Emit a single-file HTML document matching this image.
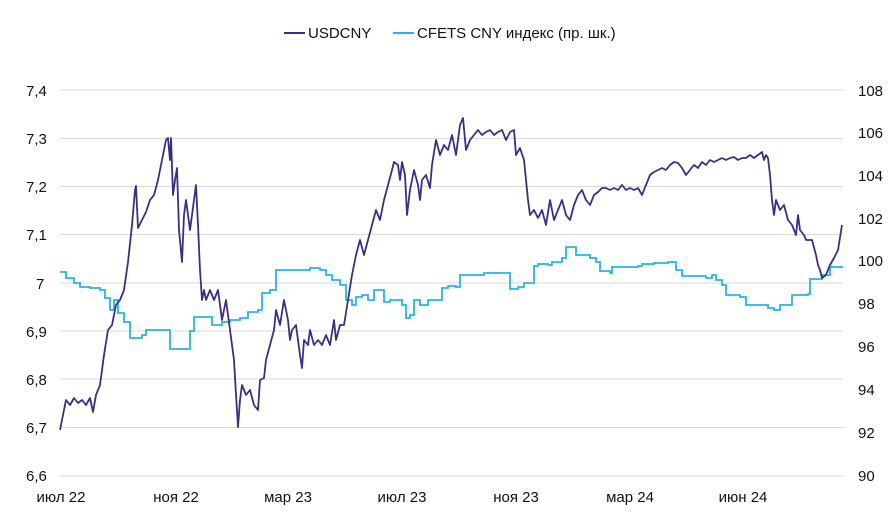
<!DOCTYPE html>
<html><head><meta charset="utf-8"><style>
body{margin:0;background:#fff;}
svg text{font-family:"Liberation Sans",sans-serif;font-size:15px;fill:#111;}
</style></head><body>
<svg width="891" height="526" viewBox="0 0 891 526">
<g stroke="#d9d9d9" stroke-width="1">
<line x1="60" y1="90" x2="843" y2="90"/><line x1="60" y1="138.5" x2="843" y2="138.5"/>
<line x1="60" y1="186.5" x2="843" y2="186.5"/><line x1="60" y1="234.5" x2="843" y2="234.5"/>
<line x1="60" y1="283" x2="843" y2="283"/><line x1="60" y1="331" x2="843" y2="331"/>
<line x1="60" y1="379" x2="843" y2="379"/><line x1="60" y1="427.5" x2="843" y2="427.5"/>
<line x1="60" y1="476" x2="843" y2="476"/>
</g>
<g text-anchor="start">
<text x="26" y="96">7,4</text><text x="26" y="144">7,3</text><text x="26" y="192">7,2</text>
<text x="26" y="240">7,1</text><text x="36" y="289">7</text><text x="26" y="337">6,9</text>
<text x="26" y="385">6,8</text><text x="26" y="433">6,7</text><text x="26" y="481">6,6</text>
<text x="858" y="96">108</text><text x="858" y="138">106</text><text x="858" y="181">104</text>
<text x="858" y="224">102</text><text x="858" y="266">100</text><text x="858" y="309">98</text>
<text x="858" y="352">96</text><text x="858" y="395">94</text><text x="858" y="438">92</text>
<text x="858" y="481">90</text>
</g>
<g text-anchor="middle">
<text x="61" y="502">июл 22</text><text x="176" y="502">ноя 22</text><text x="288" y="502">мар 23</text>
<text x="402" y="502">июл 23</text><text x="516" y="502">ноя 23</text><text x="630" y="502">мар 24</text>
<text x="743" y="502">июн 24</text>
</g>
<line x1="284" y1="33" x2="305" y2="33" stroke="#3a2f85" stroke-width="2"/>
<text x="308" y="38">USDCNY</text>
<line x1="393" y1="33" x2="414" y2="33" stroke="#28b4e3" stroke-width="2"/>
<text x="417" y="38">CFETS CNY индекс (пр. шк.)</text>
<path fill="none" stroke="#28b4e3" stroke-width="1.8" d="M60 272H66V278H74V283H80V287H90V288H100V290H105V298H110V310H114V300H118V313H124V322H130V338H142V335H146V330H168V330H170V349H188V349H190V331H194V317H210V317H212V325H222V322H230V320H240V318H248V312H258V310H262V293H270V290H276V270H310V268H320V270H326V275H332V280H340V285H346V300H352V305H356V297H362V295H368V300H374V290H380V290H384V302H390V300H402V305H406V318H410V315H414V300H420V305H428V300H436V300H442V288H448V286H456V287H460V275H472V275H484V273H508V273H510V289H518V287H524V283H534V266H538V264H548V265H552V262H562V258H566V247H572V247H576V255H590V258H596V262H600V271H610V273H612V267H638V266H642V264H654V263H668V262H676V270H682V276H698V276H706V278H712V275H716V280H722V285H726V295H740V297H746V305H768V308H774V310H780V305H792V295H808V294H810V279H822V275H830V267H843"/>
<polyline fill="none" stroke="#3a2f85" stroke-width="1.8" stroke-linejoin="round" points="60,430 63,415 66,400 70,405 74,398 78,403 82,400 86,405 90,398 93,412 96,395 100,385 104,355 108,330 112,325 116,305 120,300 124,290 128,262 132,225 135,190 136,186 138,228 142,220 146,212 150,200 154,195 158,180 162,160 166,140 168,138 170,160 171,138 173,195 175,180 177,168 179,230 182,262 184,215 186,200 188,215 190,230 194,200 196,185 198,225 200,270 202,300 204,290 206,300 210,290 214,300 218,290 222,320 226,300 230,330 234,360 236,395 238,427 240,400 242,385 246,395 250,390 254,405 258,410 260,380 264,378 266,360 270,345 274,330 276,310 280,325 284,300 288,320 290,340 292,330 296,325 300,355 302,368 304,340 308,345 310,330 314,345 318,340 322,345 326,335 330,345 334,320 336,340 340,325 344,325 348,300 352,275 356,255 360,240 364,255 368,240 372,225 376,210 380,220 384,200 388,185 392,170 394,162 398,165 400,180 402,162 405,175 407,215 410,190 414,170 418,185 420,200 422,180 426,175 430,188 432,165 436,140 440,155 444,145 448,150 452,135 456,155 460,125 463,118 466,150 470,140 474,135 478,130 482,135 486,132 490,130 494,135 498,132 502,130 506,140 510,132 514,130 516,155 520,148 524,160 528,200 530,215 534,210 538,218 542,210 546,225 550,200 554,220 558,210 562,200 566,215 570,220 574,205 578,195 582,190 586,200 590,205 594,195 598,192 602,188 606,188 610,190 614,188 618,190 622,185 626,190 630,188 634,190 638,188 642,195 646,185 650,175 654,172 658,170 662,168 666,170 670,165 674,162 678,163 682,168 686,175 690,170 694,165 698,168 702,162 706,165 710,160 714,162 718,160 722,158 726,160 730,158 734,157 738,160 742,158 746,158 750,155 754,158 758,155 762,152 764,160 766,155 768,158 770,175 772,200 774,215 776,200 780,210 784,205 788,220 792,225 796,235 798,215 800,230 804,235 806,240 810,240 812,240 816,255 818,265 820,270 822,278 826,275 830,265 834,258 838,250 842,225"/>
</svg>
</body></html>
